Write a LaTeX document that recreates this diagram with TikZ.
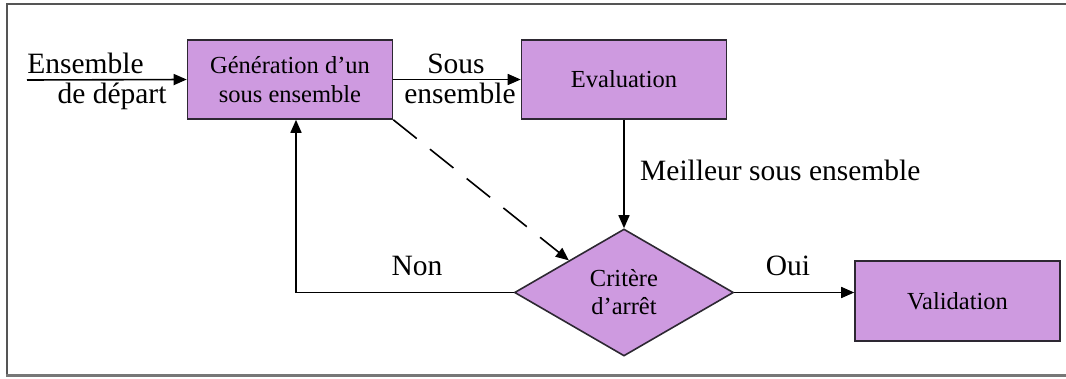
\documentclass[tikz,border=0pt]{standalone}
\usepackage{fontspec}
\setmainfont{Liberation Serif}
\usetikzlibrary{shapes.geometric,arrows.meta}
\definecolor{boxfill}{RGB}{206,154,224}
\definecolor{boxline}{RGB}{45,40,50}
\definecolor{framegray}{RGB}{85,85,85}
\tikzset{
  stepbox/.style={draw=boxline, line width=1.6pt, fill=boxfill, rectangle,
    minimum width=205pt, minimum height=79pt, inner sep=0pt, align=center,
    font=\fontsize{24.5}{29.5}\selectfont},
  testbox/.style={draw=boxline, line width=1.6pt, fill=boxfill, diamond,
    minimum width=219pt, minimum height=127pt, inner sep=0pt, aspect=1.72,
    align=center, font=\fontsize{24.5}{28}\selectfont},
  flow/.style={line width=1.6pt, -{Triangle[length=13pt,width=11pt]}},
  lbl/.style={anchor=base, inner sep=0pt, font=\fontsize{29.5}{34}\selectfont}
}
\begin{document}
\begin{tikzpicture}[x=1pt,y=-1pt]
\useasboundingbox (0,0) rectangle (1066,378);
% open frame
\draw[framegray, line width=2.2pt] (1066,4) -- (7,4) -- (7,375);
\draw[framegray!80, line width=3.5pt] (6,375.5) -- (1066,375.5);

% blocks
\node[stepbox] (gen) at (290,79.5) {Génération d’un\\sous ensemble};
\node[stepbox] (eval) at (624,79.5) {Evaluation};
\node[testbox] (crit) at (624,292.5) {Critère\\d’arrêt};
\node[stepbox, minimum height=80pt] (valid) at (957.5,301) {Validation};

% input
\coordinate (start) at (27,80);
\draw[flow] (start) -- (gen.west);
\node[lbl] (lin1) at (85.5,73) {Ensemble};
\node[lbl] (lin2) at (112,103) {de départ};

% connectors
\draw[flow] (gen.east) -- (eval.west);
\node[lbl] (ls1) at (456,73) {Sous};
\node[lbl] (ls2) at (460,103) {ensemble};

\draw[flow] (eval.south) -- (crit.north);
\node[lbl, anchor=base west] (lbest) at (640,180) {Meilleur sous ensemble};

\draw[flow] (crit.east) -- (crit.east -| valid.west);
\node[lbl] (lyes) at (788,275) {Oui};

\draw[flow] (crit.west) -| ([xshift=6pt]gen.south);
\node[lbl] (lno) at (417,275) {Non};

\draw[flow, dash pattern=on 30pt off 17pt] (gen.south east) -- (crit.north west);
\end{tikzpicture}
\end{document}
